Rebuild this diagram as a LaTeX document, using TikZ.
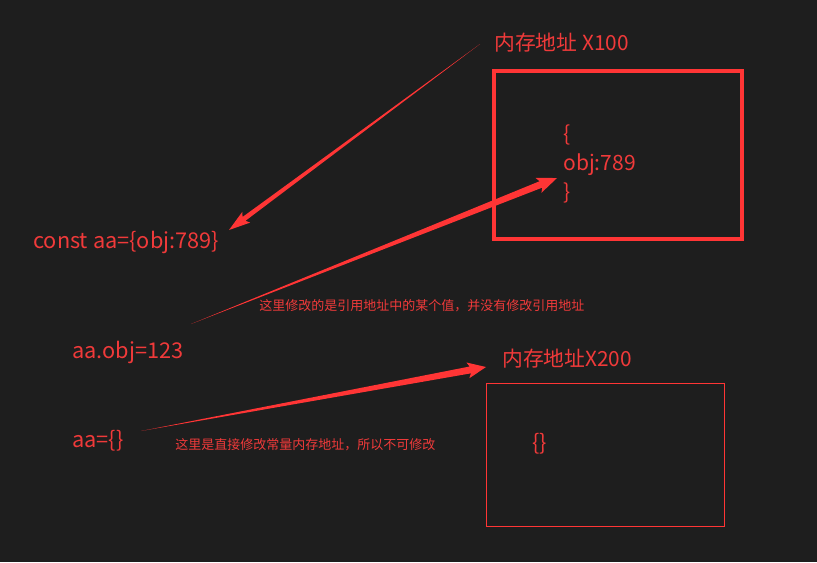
\documentclass[tikz,border=0pt]{standalone}
\usepackage{fontspec}
\setmainfont{Noto Sans CJK SC}
\usetikzlibrary{calc,positioning}
\definecolor{bg}{HTML}{1E1E1E}
\definecolor{hot}{HTML}{FF3535}
\definecolor{ink}{HTML}{F03A3A}
\tikzset{
  codetext/.style={anchor=west,inner sep=0pt,text=ink,font=\fontsize{16.3pt}{20pt}\selectfont},
  memtitle/.style={anchor=west,inner sep=0pt,text=ink,font=\fontsize{15.6pt}{20pt}\selectfont},
  note/.style={anchor=west,inner sep=0pt,text=ink,font=\fontsize{9.75pt}{12pt}\selectfont},
  membox/.style={draw=hot,rectangle,inner sep=0pt}
}
% tapered arrow: tail, tip, shaft half width, head half width, head length
\newcommand\taperarrow[5]{%
  \coordinate (tb) at ($(#2)!#5!(#1)$);
  \coordinate (tw) at ($(#2)!1.15*#5!(#1)$);
  \fill[hot] (#1) -- ($(tb)!#3!90:(#2)$) -- ($(tw)!#4!90:(#2)$) -- (#2)
    -- ($(tw)!#4!-90:(#2)$) -- ($(tb)!#3!-90:(#2)$) -- cycle;
}

\begin{document}
\begin{tikzpicture}[x=0.75pt,y=-0.75pt]
    \fill[bg] (0,0) rectangle (817,562);

    % memory blocks
    \node[memtitle] (addr1) at (494,43) {内存地址 X100};
    \node[membox,line width=2.3pt,minimum width=186pt,minimum height=126pt] (box1) at (618,155) {};
    \node[codetext,align=left,font=\fontsize{15.8pt}{22pt}\selectfont] (obj) at (563,164) {\{\\obj:789\\\}};

    \node[memtitle] (addr2) at (502,359) {内存地址X200};
    \node[membox,line width=0.75pt,minimum width=178.5pt,minimum height=107.25pt] (box2) at (605,454.5) {};
    \node[codetext] (empty) at (532,444) {\{\}};

    % code lines
    \node[codetext] (decl) at (33,242) {const aa=\{obj:789\}};
    \node[codetext] (assign) at (72,352) {aa.obj=123};
    \node[codetext] (reset) at (72,441) {aa=\{\}};

    \node[note] (note1) at (259,306) {这里修改的是引用地址中的某个值，并没有修改引用地址};
    \node[note] (note2) at (175,445) {这里是直接修改常量内存地址，所以不可修改};

    % arrows
    \coordinate (t1) at (480,44);
    \coordinate (h1) at (229,230);
    \coordinate (t2) at (191,324);
    \coordinate (h2) at (557,178);
    \coordinate (t3) at (141,431);
    \coordinate (h3) at (486,367);
    \taperarrow{t1}{h1}{1.8pt}{5pt}{14pt}
    \taperarrow{t2}{h2}{2.6pt}{6pt}{13pt}
    \taperarrow{t3}{h3}{2.6pt}{6pt}{12pt}
\end{tikzpicture}
\end{document}
